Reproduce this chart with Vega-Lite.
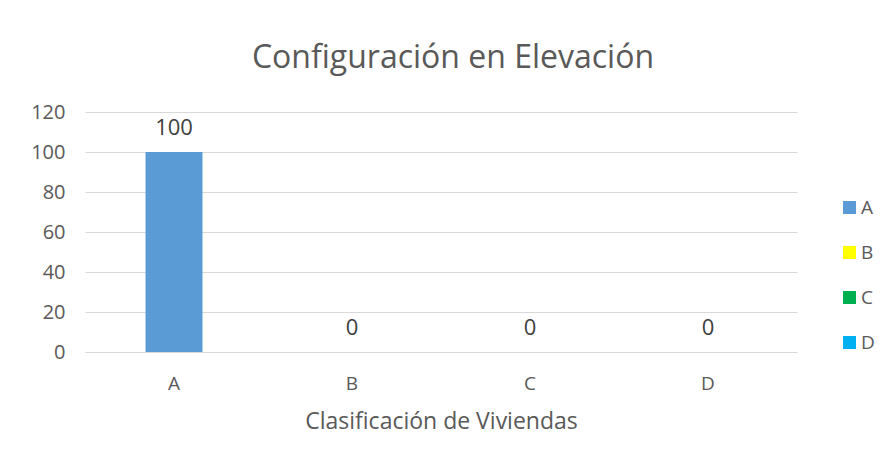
{
  "$schema": "https://vega.github.io/schema/vega-lite/v6.json",
  "autosize": "none",
  "width": 712,
  "height": 240,
  "padding": {"left": 85, "top": 112, "right": 88, "bottom": 109},
  "background": "white",
  "title": {
    "text": "Configuración en Elevación",
    "font": "Open Sans",
    "fontSize": 32,
    "fontWeight": "normal",
    "color": "#595959",
    "anchor": "middle",
    "dx": 12,
    "offset": 27
  },
  "data": {
    "values": [
      {"clase": "A", "valor": 100},
      {"clase": "B", "valor": 0},
      {"clase": "C", "valor": 0},
      {"clase": "D", "valor": 0}
    ]
  },
  "config": {
    "view": {"stroke": null},
    "font": "Open Sans"
  },
  "encoding": {
    "x": {
      "field": "clase",
      "type": "nominal",
      "scale": {"paddingInner": 0.68, "paddingOuter": 0.34},
      "axis": {
        "title": "Clasificación de Viviendas",
        "titleFont": "Open Sans",
        "titleFontSize": 23,
        "titleFontWeight": "normal",
        "titleColor": "#595959",
        "titlePadding": 17,
        "labelAngle": 0,
        "labelFont": "Open Sans",
        "labelFontSize": 19,
        "labelColor": "#595959",
        "labelPadding": 22,
        "ticks": false,
        "domainColor": "#D9D9D9",
        "domainWidth": 1
      }
    },
    "y": {
      "field": "valor",
      "type": "quantitative",
      "scale": {"domain": [0, 120]},
      "axis": {
        "title": null,
        "values": [0, 20, 40, 60, 80, 100, 120],
        "labelFont": "Open Sans",
        "labelFontSize": 20,
        "labelColor": "#595959",
        "labelPadding": 20,
        "ticks": false,
        "domain": false,
        "gridColor": "#D9D9D9",
        "gridWidth": 1
      }
    }
  },
  "layer": [
    {
      "mark": {"type": "bar"},
      "encoding": {
        "color": {
          "field": "clase",
          "type": "nominal",
          "scale": {
            "domain": ["A", "B", "C", "D"],
            "range": ["#5B9BD5", "#FFFF00", "#00B050", "#00B0F0"]
          },
          "legend": {
            "title": null,
            "orient": "none",
            "legendX": 755,
            "legendY": 86,
            "symbolType": "square",
            "symbolSize": 170,
            "symbolStrokeWidth": 0,
            "labelFont": "Open Sans",
            "labelFontSize": 19,
            "labelColor": "#595959",
            "labelOffset": 2,
            "rowPadding": 25
          }
        }
      }
    },
    {
      "mark": {
        "type": "text",
        "dy": -17,
        "baseline": "alphabetic",
        "font": "Open Sans",
        "fontSize": 22,
        "color": "#404040"
      },
      "encoding": {
        "text": {"field": "valor", "type": "quantitative"}
      }
    }
  ]
}
